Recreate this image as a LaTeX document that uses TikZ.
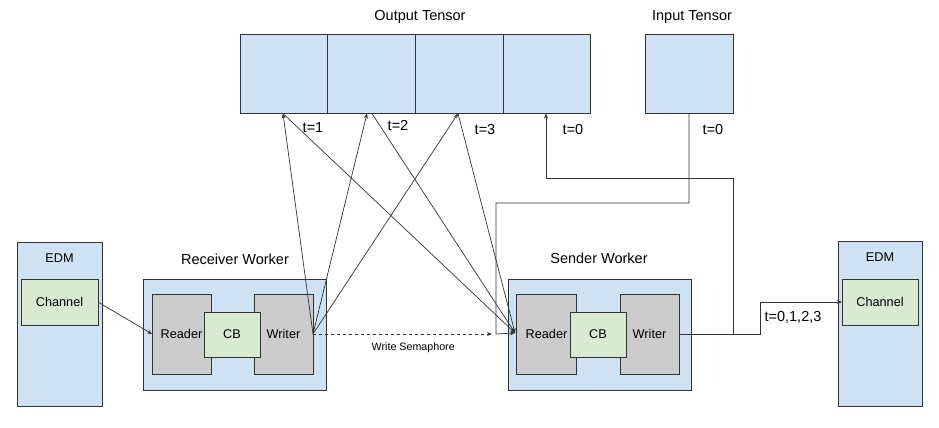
\documentclass[tikz,border=0pt]{standalone}
\usepackage{fontspec}
\setmainfont{Liberation Sans}
\usetikzlibrary{arrows.meta}
\definecolor{lblue}{HTML}{CFE2F3}
\definecolor{lgrey}{HTML}{CCCCCC}
\definecolor{lgreen}{HTML}{D9EAD3}
\definecolor{edge}{HTML}{333333}
\tikzset{
  cell/.style={draw=edge, line width=0.8pt, fill=lblue, inner sep=0pt, outer sep=0pt},
  greybox/.style={draw=edge, line width=0.8pt, fill=lgrey, inner sep=0pt, outer sep=0pt, font=\fontsize{12.7}{14}\selectfont},
  greenbox/.style={draw=edge, line width=0.8pt, fill=lgreen, inner sep=0pt, outer sep=0pt, font=\fontsize{12.7}{14}\selectfont},
  biglabel/.style={font=\fontsize{14.5}{16}\selectfont, inner sep=0pt},
  smalllabel/.style={font=\fontsize{12.7}{14}\selectfont, inner sep=0pt},
  conn/.style={draw=edge, line width=0.7pt},
  arr/.style={conn, -{Stealth[length=5pt,width=4pt]}},
}
\begin{document}
\begin{tikzpicture}[x=1pt,y=-1pt]
\useasboundingbox (0,0) rectangle (939,428);
% Output tensor
\node[cell, minimum width=87pt, minimum height=79pt] (out1) at (283.5,73.5) {};
\node[cell, minimum width=88pt, minimum height=79pt] (out2) at (371,73.5) {};
\node[cell, minimum width=88pt, minimum height=79pt] (out3) at (459,73.5) {};
\node[cell, minimum width=87pt, minimum height=79pt] (out4) at (546.5,73.5) {};
\node[biglabel] (outlbl) at (420,17) {Output Tensor};
% Input tensor
\node[cell, minimum width=88pt, minimum height=79pt] (in) at (689,73.5) {};
\node[biglabel] (inlbl) at (692,17) {Input Tensor};
% Left EDM
\node[cell, minimum width=85pt, minimum height=164pt] (edmL) at (59.5,324) {};
\node[smalllabel] (edmLlbl) at (59.5,258) {EDM};
\node[greenbox, minimum width=77pt, minimum height=46pt] (chL) at (59.5,302) {Channel};
% Receiver worker
\node[cell, minimum width=183pt, minimum height=111pt] (recv) at (234.5,334.5) {};
\node[biglabel] (recvlbl) at (235,259) {Receiver Worker};
\node[greybox, minimum width=59pt, minimum height=80pt] (rReader) at (181.5,334) {Reader};
\node[greybox, minimum width=59pt, minimum height=80pt] (rWriter) at (283.5,334) {Writer};
\node[greenbox, minimum width=56pt, minimum height=45pt] (rCB) at (232,334.5) {CB};
% Sender worker
\node[cell, minimum width=183pt, minimum height=111pt] (send) at (599.5,334.5) {};
\node[biglabel] (sendlbl) at (599,258) {Sender Worker};
\node[greybox, minimum width=60pt, minimum height=80pt] (sReader) at (546.5,334) {Reader};
\node[greybox, minimum width=59pt, minimum height=80pt] (sWriter) at (649.5,334) {Writer};
\node[greenbox, minimum width=56pt, minimum height=45pt] (sCB) at (598,334.5) {CB};
% Right EDM
\node[cell, minimum width=84pt, minimum height=165pt] (edmR) at (880,323.5) {};
\node[smalllabel] (edmRlbl) at (880,257) {EDM};
\node[greenbox, minimum width=76pt, minimum height=46pt] (chR) at (880,302) {Channel};
% helper coordinates
\coordinate (o1) at (283,113.5);
\coordinate (o2) at (367,113.5);
\coordinate (o2s) at (372,113.5);
\coordinate (o3) at (458,113.5);
\coordinate (o4) at (546,113.5);
\coordinate (sin) at (515,333);
\coordinate (semend) at (492,334);
% connectors
\draw[arr] (chL.east) -- (rReader.west);
\draw[arr] (rWriter.east) -- (o1);
\draw[arr] (rWriter.east) -- (o2);
\draw[arr] (rWriter.east) -- (o3);
\draw[arr] (o1) -- (sin);
\draw[arr] (o2s) -- (sin);
\draw[arr] (o3) -- (sin);
\draw[arr, dashed] (rWriter.east) -- node[pos=0.56, yshift=-14pt, font=\fontsize{10.7}{12}\selectfont, inner sep=0pt] (semlbl) {Write Semaphore} (semend);
\draw[arr] (in.south) -- (689,203) -- (496,203) -- (496,334) -- (sin);
\draw[arr] (sWriter.east) -- (733,334) -- (733,178) -- (546,178) -- (o4);
\draw[arr] (sWriter.east) -- (760,334) -- (760,302) -- (chR.west);
% labels
\node[biglabel] (t1) at (313,128) {t=1};
\node[biglabel] (t2) at (398,125) {t=2};
\node[biglabel] (t3) at (485,130) {t=3};
\node[biglabel] (t0a) at (573,130) {t=0};
\node[biglabel] (t0b) at (713,130) {t=0};
\node[biglabel] (tall) at (793,317) {t=0,1,2,3};
\end{tikzpicture}
\end{document}
